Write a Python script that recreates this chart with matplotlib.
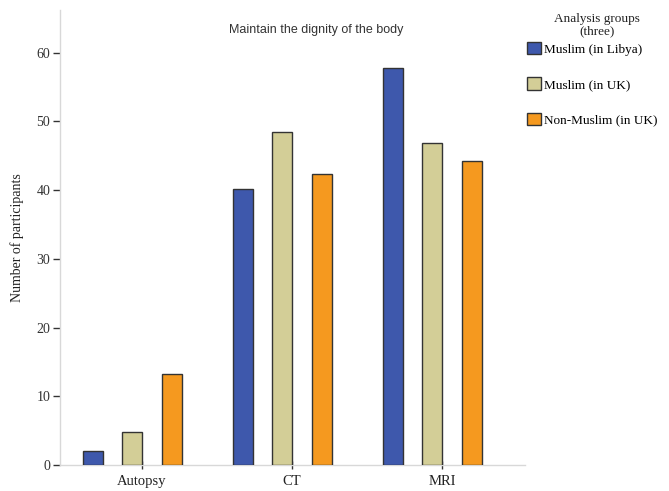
import matplotlib
matplotlib.use("Agg")
import matplotlib.pyplot as plt
import numpy as np

categories = ["Autopsy", "CT", "MRI"]
groups = ["Muslim (in Libya)", "Muslim (in UK)", "Non-Muslim (in UK)"]
muslim_libya = [2.0, 40.1, 57.8]
muslim_uk = [4.8, 48.4, 46.8]
non_muslim_uk = [13.3, 42.4, 44.2]
yticks = [0, 10, 20, 30, 40, 50, 60]

colors = ["#3e58ac", "#d3ce97", "#f5991f"]
series = [muslim_libya, muslim_uk, non_muslim_uk]

fig = plt.figure(figsize=(6.69, 4.91), dpi=100)
ax = fig.add_axes([60/669, 1-465/491, (525-60)/669, (465-10)/491])

x = np.arange(len(categories))
w = 0.133
offsets = [-0.33, -0.067, 0.197]
serif = "Liberation Serif"
for vals, c, off, lab in zip(series, colors, offsets, groups):
    ax.bar(x + off, vals, width=w, color=c, edgecolor="#333333", linewidth=1.0, label=lab, zorder=3)

ax.set_xlim(-0.547, 2.553)
ax.set_ylim(0, 66.2)
ax.set_yticks(yticks)
ax.set_yticklabels([str(t) for t in yticks], fontfamily=serif, fontsize=10, color="#333333")
ax.set_xticks(x)
ax.set_xticklabels(categories, fontfamily=serif, fontsize=10.5, color="#222222")
for s in ["top", "right"]:
    ax.spines[s].set_visible(False)
for s in ["left", "bottom"]:
    ax.spines[s].set_color("#d8d8d8")
    ax.spines[s].set_linewidth(1.0)
ax.tick_params(axis="y", length=5, width=1, color="#333333", pad=2)
ax.tick_params(axis="x", length=6, width=1, color="#333333", pad=4, direction="inout")
ax.set_ylabel("Number of participants", fontfamily=serif, fontsize=10, color="#222222", labelpad=9)

fig.text(316/669, 1-30/491, "Maintain the dignity of the body", ha="center", va="center",
         fontfamily="Liberation Sans", fontsize=9, color="#333333")

fig.text(597/669, 1-25/491, "Analysis groups\n(three)", ha="center", va="center",
         fontfamily=serif, fontsize=9.5, color="#222222", linespacing=1.0)

leg = fig.legend(loc="upper left", bbox_to_anchor=(527/669, 1-42/491), frameon=False,
                 prop={"family": serif, "size": 9.5},
                 handlelength=1.05, handleheight=1.05, handletextpad=0.25,
                 labelspacing=1.65, borderaxespad=0, borderpad=0)

fig.savefig("out.png", dpi=100, facecolor="white")
